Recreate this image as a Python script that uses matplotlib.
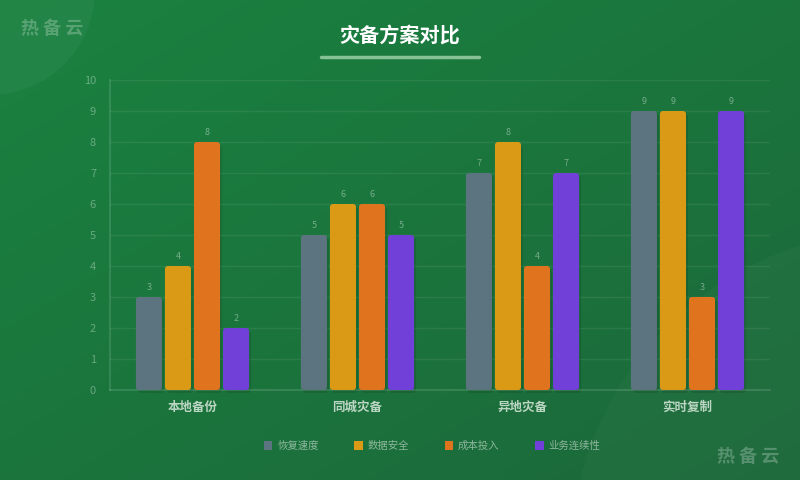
import numpy as np
import matplotlib
matplotlib.use("Agg")
import matplotlib.pyplot as plt
from matplotlib.patches import FancyBboxPatch, Circle, Rectangle

plt.rcParams['font.family'] = ['Noto Sans CJK SC', 'DejaVu Sans']

categories = ["本地备份", "同城灾备", "异地灾备", "实时复制"]
series_names = ["恢复速度", "数据安全", "成本投入", "业务连续性"]
recovery_speed = [3, 5, 7, 9]
data_security = [4, 6, 8, 9]
cost_input = [8, 6, 4, 3]
continuity = [2, 5, 7, 9]
series_values = [recovery_speed, data_security, cost_input, continuity]
colors = ["#5c7480", "#da9a15", "#e0731e", "#7040d8"]
yticks = list(range(0, 11))
title = "灾备方案对比"
watermark = "热 备 云"

W, H = 800, 480
fig = plt.figure(figsize=(8, 4.8), dpi=100)

# background gradient
bg = fig.add_axes([0, 0, 1, 1], zorder=-10)
yy, xx = np.mgrid[0:1:200j, 0:1:300j]
t = (xx * 0.5 + yy * 0.5)
c0 = np.array([0x1a, 0x82, 0x40]) / 255
c1 = np.array([0x1c, 0x68, 0x3a]) / 255
img = c0[None, None, :] * (1 - t[..., None]) + c1[None, None, :] * t[..., None]
bg.imshow(img, extent=[0, W, H, 0], aspect='auto', interpolation='bilinear')
bg.set_xlim(0, W)
bg.set_ylim(H, 0)
bg.axis('off')
bg.add_patch(Circle((-10, -10), 105, color='white', alpha=0.04, lw=0))
bg.add_patch(Circle((900, 560), 330, color='white', alpha=0.025, lw=0))

# title
bg.text(400, 35, title, ha='center', va='center', color='white', fontsize=14.5, fontweight='bold')
bg.plot([321, 479], [57, 57], color='#86c296', lw=2.5, solid_capstyle='round')
bg.text(52, 28, watermark, ha='center', va='center', color='white', alpha=0.25, fontsize=13, fontweight='bold')
bg.text(748, 456, watermark, ha='center', va='center', color='white', alpha=0.25, fontsize=13, fontweight='bold')

ax = fig.add_axes([110 / W, 1 - 390 / H, 660 / W, 310 / H])
ax.set_facecolor('none')
ncat = len(categories)
x = np.arange(ncat)
bw = 0.158
step = 0.176
ax.set_xlim(-0.5, ncat - 0.5)
ax.set_ylim(0, 10)
xpp = (ncat) / 660.0
ypp = 10 / 310.0
r = 3 * xpp
for i, (vals, col) in enumerate(zip(series_values, colors)):
    offs = (i - 1.5) * step
    bars = ax.bar(x + offs, vals, width=bw, color='none', edgecolor='none')
    for b, v in zip(bars, vals):
        bx, by, bwid, bh = b.get_x(), b.get_y(), b.get_width(), b.get_height()
        sh = FancyBboxPatch((bx + 2 * xpp, by - 3 * ypp), bwid, bh,
                            boxstyle=f"round,pad=0,rounding_size={r}",
                            mutation_aspect=ypp / xpp, fc='black', ec='none', alpha=0.1, zorder=2, clip_on=False)
        ax.add_patch(sh)
        p = FancyBboxPatch((bx, by), bwid, bh,
                           boxstyle=f"round,pad=0,rounding_size={r}",
                           mutation_aspect=ypp / xpp, fc=col, ec='none', zorder=3)
        ax.add_patch(p)
        ax.text(bx + bwid / 2, v + 5 * ypp, str(v), ha='center', va='bottom',
                fontsize=6.5, color='white', alpha=0.4)

ax.set_yticks(yticks)
ax.set_yticklabels([str(v) for v in yticks])
ax.set_xticks(x)
ax.set_xticklabels(categories)
ax.tick_params(axis='y', length=0, colors=(1, 1, 1, 0.35), labelsize=8, pad=10)
ax.tick_params(axis='x', length=0, labelcolor='#bcd6c4', labelsize=9, pad=8)
for lab in ax.get_xticklabels():
    lab.set_fontweight('bold')
ax.grid(axis='y', color='white', alpha=0.07, lw=1)
ax.set_axisbelow(True)
for s in ['top', 'right']:
    ax.spines[s].set_visible(False)
for s in ['left', 'bottom']:
    ax.spines[s].set_color((1, 1, 1, 0.12))
    ax.spines[s].set_linewidth(1.5)

handles = [Rectangle((0, 0), 1, 1, fc=c, ec='none') for c in colors]
leg = fig.legend(handles, series_names, loc='center', bbox_to_anchor=(432 / W, 1 - 446 / H),
                 ncol=4, frameon=False, fontsize=7.5, handlelength=0.85, handleheight=0.85,
                 handletextpad=0.45, columnspacing=3.4)
for t_ in leg.get_texts():
    t_.set_color((1, 1, 1, 0.5))

fig.savefig("out.png", dpi=100)
